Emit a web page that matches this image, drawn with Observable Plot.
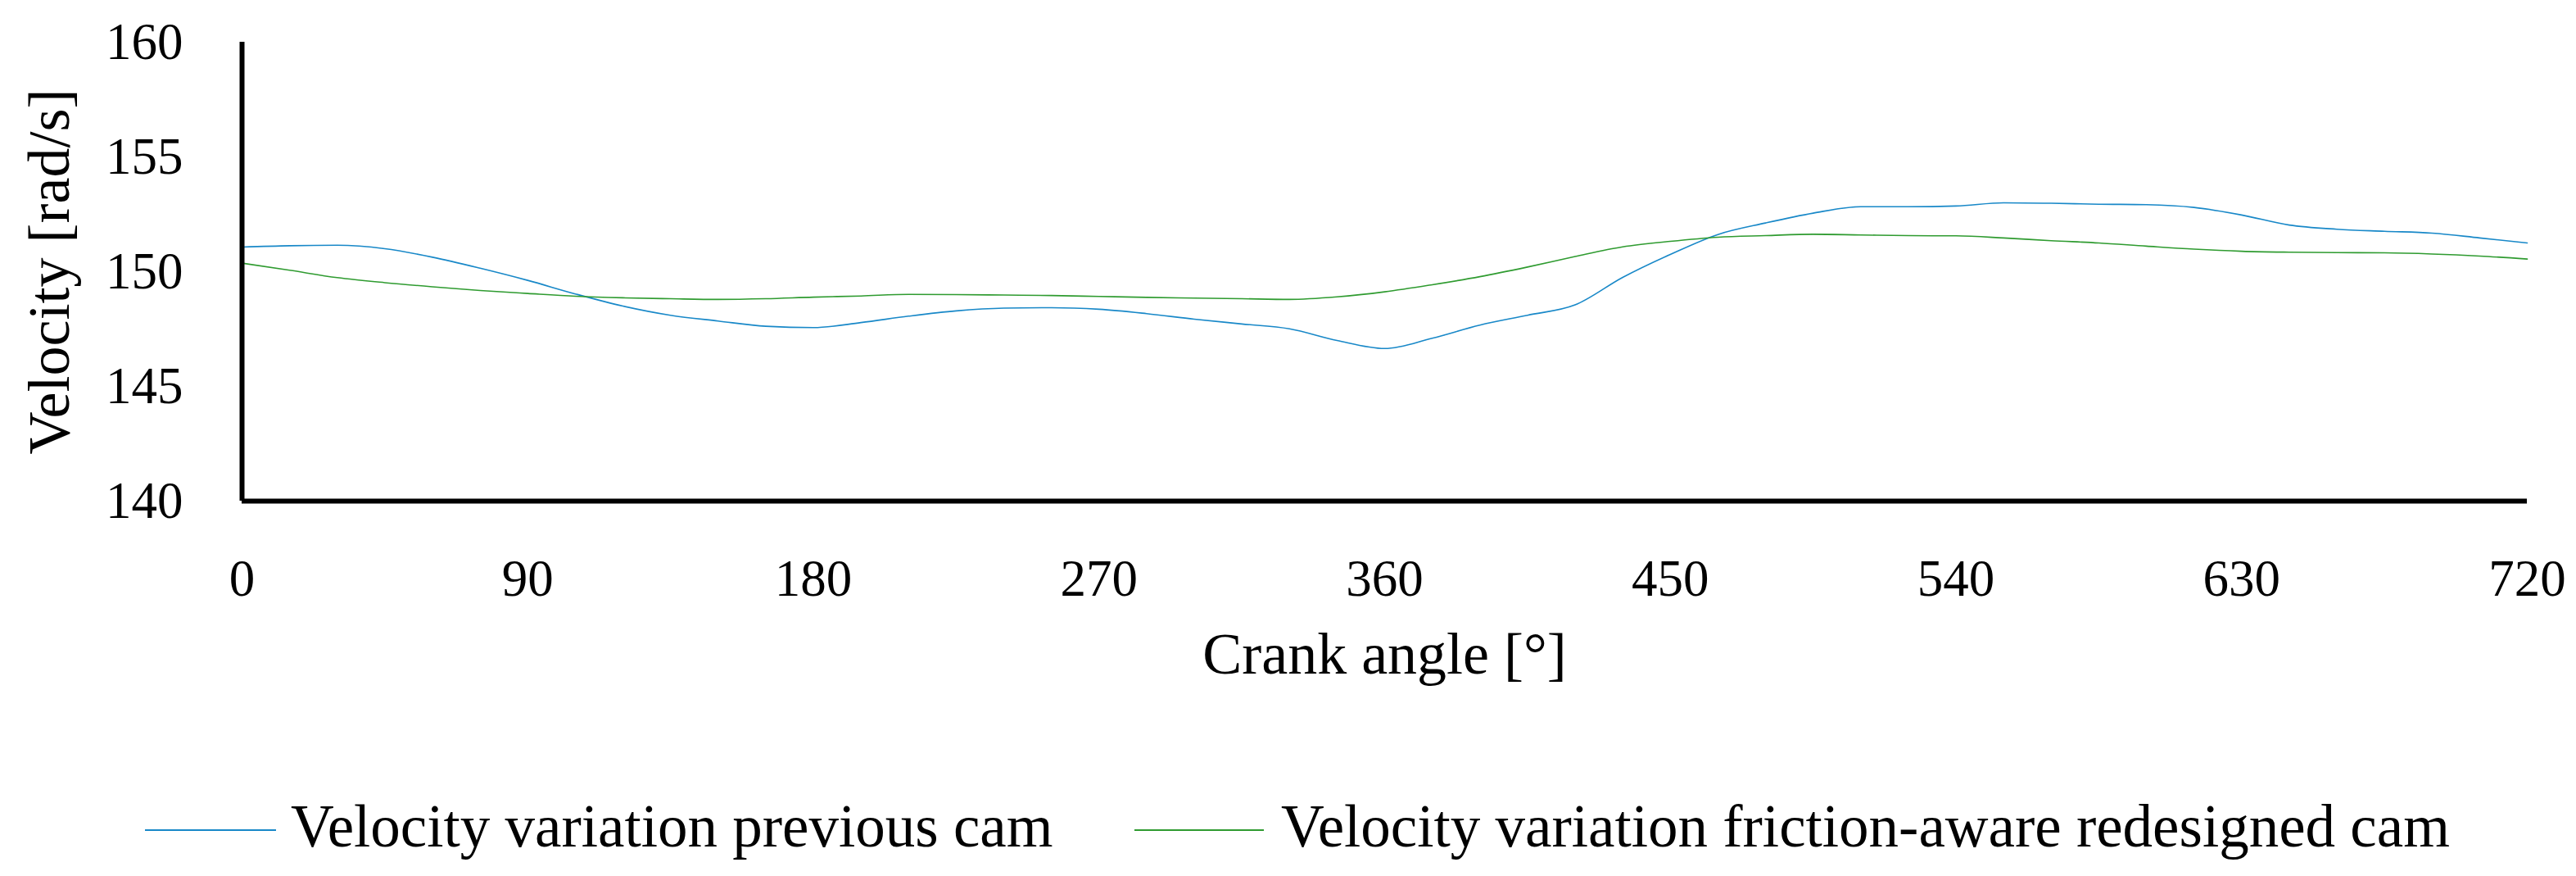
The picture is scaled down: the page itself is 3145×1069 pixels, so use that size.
<!DOCTYPE html>
<html>
<head>
<meta charset="utf-8">
<script src="https://cdn.jsdelivr.net/npm/d3@7"></script>
<script src="https://cdn.jsdelivr.net/npm/@observablehq/plot@0.6"></script>
<style>
  html, body { margin: 0; padding: 0; background: #ffffff; }
  #chart { width: 3145px; }
  #legend { position: relative; width: 3145px; height: 129px; font-family: "Liberation Serif", serif; font-size: 73px; color: #000; }
  #legend .sw { position: absolute; height: 2px; }
  #legend .tx { position: absolute; line-height: 1; white-space: nowrap; }
</style>
</head>
<body>
<div id="chart"></div>
<div id="legend"></div>
<script>
// Crank angle samples [°]
const angles = [0,15,30,45,60,75,90,105,120,135,150,165,180,195,210,225,240,255,270,285,300,315,330,345,360,
  375,390,405,420,435,450,465,480,495,510,525,540,555,570,585,600,615,630,645,660,675,690,705,720];

// Velocity variation previous cam [rad/s]
const previousCam = [151.07,151.13,151.15,151.0,150.63,150.15,149.62,149.03,148.5,148.1,147.85,147.62,147.56,147.78,148.06,148.29,148.41,148.43,148.36,148.17,147.93,147.72,147.51,147.0,146.65,
  147.1,147.67,148.1,148.55,149.75,150.75,151.62,152.12,152.55,152.83,152.83,152.86,153.0,152.98,152.94,152.92,152.8,152.47,152.03,151.85,151.76,151.68,151.47,151.25];

// Velocity variation friction-aware redesigned cam [rad/s]
const redesignedCam = [150.37,150.06,149.74,149.52,149.34,149.18,149.05,148.93,148.86,148.82,148.79,148.82,148.89,148.94,149.01,149.0,148.98,148.96,148.92,148.88,148.85,148.82,148.79,148.9,149.12,
  149.43,149.78,150.2,150.66,151.08,151.32,151.5,151.57,151.63,151.6,151.57,151.56,151.47,151.35,151.25,151.11,150.98,150.89,150.85,150.83,150.82,150.77,150.68,150.55];

const seriesNames = ["Velocity variation previous cam", "Velocity variation friction-aware redesigned cam"];
const seriesColors = ["#1888c8", "#2f9b30"];

const xTicks = [0, 90, 180, 270, 360, 450, 540, 630, 720];
const yTicks = [140, 145, 150, 155, 160];
const xTitle = "Crank angle [°]";
const yTitle = "Velocity [rad/s]";

const data = [];
angles.forEach((a, i) => {
  data.push({angle: a, v: previousCam[i], s: seriesNames[0]});
  data.push({angle: a, v: redesignedCam[i], s: seriesNames[1]});
});

const font = "Liberation Serif";

const chart = Plot.plot({
  width: 3145,
  height: 940,
  marginLeft: 295,
  marginRight: 60,
  marginTop: 51,
  marginBottom: 329,
  style: {fontFamily: font, background: "#ffffff", color: "#000", overflow: "visible"},
  x: {domain: [0, 720]},
  y: {domain: [140, 160]},
  color: {domain: seriesNames, range: seriesColors},
  marks: [
    Plot.axisX({ticks: xTicks, tickSize: 0, tickPadding: 71, fontSize: 63, label: null, tickFormat: d => String(d)}),
    Plot.axisY({ticks: yTicks, tickSize: 0, tickPadding: 72, fontSize: 63, label: null, tickFormat: d => String(d)}),
    Plot.line(data, {x: "angle", y: "v", z: "s", stroke: "s", strokeWidth: 1.6, curve: "monotone-x"}),
    Plot.ruleX([0], {y1: 140, y2: 160, stroke: "#000", strokeWidth: 6}),
    Plot.ruleY([140], {x1: 0, x2: 720, stroke: "#000", strokeWidth: 6}),
    Plot.text([xTitle], {frameAnchor: "bottom", dy: 210, fontSize: 72, fill: "#000"}),
    Plot.text([yTitle], {frameAnchor: "left", textAnchor: "middle", rotate: -90, dx: -235, fontSize: 72, fill: "#000"})
  ]
});
document.getElementById("chart").appendChild(chart);

// Legend below the SVG
const legend = document.getElementById("legend");
const legendItems = [
  {swLeft: 177, swWidth: 160, txLeft: 355},
  {swLeft: 1385, swWidth: 158, txLeft: 1564}
];
legendItems.forEach((it, i) => {
  const sw = document.createElement("div");
  sw.className = "sw";
  sw.style.left = it.swLeft + "px";
  sw.style.top = "72px";
  sw.style.width = it.swWidth + "px";
  sw.style.background = seriesColors[i];
  legend.appendChild(sw);
  const tx = document.createElement("div");
  tx.className = "tx";
  tx.style.left = it.txLeft + "px";
  tx.style.top = "32px";
  tx.textContent = seriesNames[i];
  legend.appendChild(tx);
});
</script>
</body>
</html>
